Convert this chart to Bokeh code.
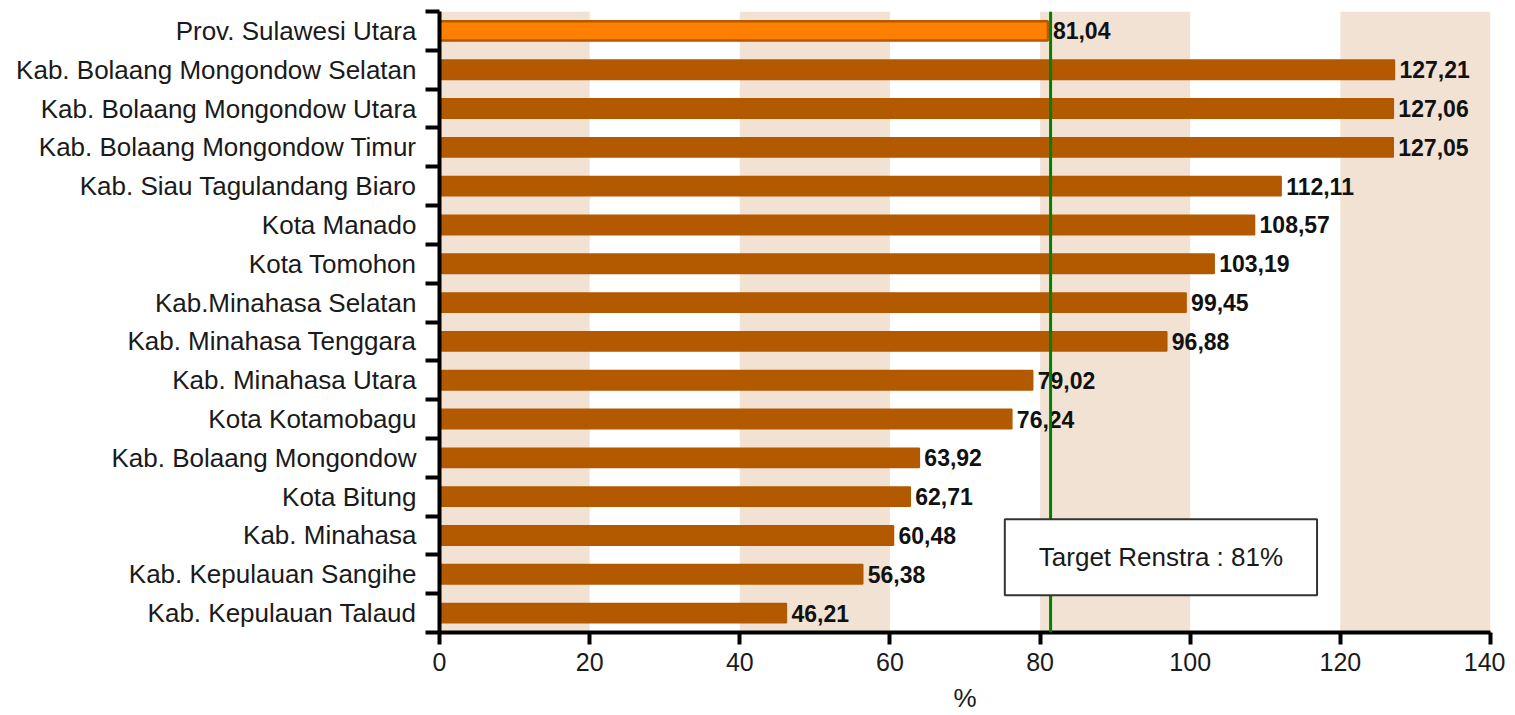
from bokeh.plotting import figure
from bokeh.models import FixedTicker, Span, Label, ColumnDataSource
from bokeh.core.properties import value
from bokeh.embed import file_html
from bokeh.resources import INLINE

# ---- data (top to bottom) ----
regions = ["Prov. Sulawesi Utara", "Kab. Bolaang Mongondow Selatan",
           "Kab. Bolaang Mongondow Utara", "Kab. Bolaang Mongondow Timur",
           "Kab. Siau Tagulandang Biaro", "Kota Manado", "Kota Tomohon",
           "Kab.Minahasa Selatan", "Kab. Minahasa Tenggara", "Kab. Minahasa Utara",
           "Kota Kotamobagu", "Kab. Bolaang Mongondow", "Kota Bitung",
           "Kab. Minahasa", "Kab. Kepulauan Sangihe", "Kab. Kepulauan Talaud"]
values = [81.04, 127.21, 127.06, 127.05, 112.11, 108.57, 103.19, 99.45,
          96.88, 79.02, 76.24, 63.92, 62.71, 60.48, 56.38, 46.21]
x_ticks = [0, 20, 40, 60, 80, 100, 120, 140]
band_left = [0, 40, 80, 120]
band_right = [20, 60, 100, 140]
target_line = 81.4
target_text = "Target Renstra : 81%"
x_label = "%"

FONT = "Liberation Sans"
BROWN = "#B35900"
ORANGE = "#FF8000"
BAND = "#F1E2D3"

n = len(regions)
centers = [n - i - 0.5 for i in range(n)]
colors = [ORANGE] + [BROWN] * (n - 1)
widths = [2.5] + [1.5] * (n - 1)
texts = [f"{v:.2f}".replace(".", ",") for v in values]

src = ColumnDataSource(dict(y=centers, v=values, c=colors, t=texts, w=widths))

p = figure(width=1505, height=715, x_range=(0, 140), y_range=(0, n),
           output_backend="svg", toolbar_location=None,
           min_border_left=439, min_border_right=15, min_border_top=11,
           min_border_bottom=0)
p.outline_line_color = None
p.xgrid.visible = False
p.ygrid.visible = False

# alternating background bands
p.quad(left=band_left, right=band_right, bottom=0, top=n,
       fill_color=BAND, line_color=None)

# bars
p.hbar(y="y", right="v", left=0, height=0.5, fill_color="c",
       line_color=BROWN, line_width="w", source=src)

# value labels
p.text(x="v", y="y", text="t", x_offset=5, text_baseline="middle",
       text_align="left", text_font=value(FONT), text_font_style="bold",
       text_font_size="23px", text_color="#111111", source=src)

# target line
p.add_layout(Span(location=target_line, dimension="height",
                  line_color="#008000", line_width=3))

# target box
p.add_layout(Label(x=96.1, y=1.94, text=target_text, text_align="center",
                   text_baseline="middle", text_font=FONT,
                   text_font_size="26px", text_color="#1a1a1a",
                   background_fill_color="white", border_line_color="#333333",
                   border_line_width=2, padding=(34, 23)))

# x axis
xa = p.xaxis[0]
xa.ticker = FixedTicker(ticks=x_ticks, minor_ticks=[])
xa.axis_line_width = 4
xa.axis_line_color = "black"
xa.major_tick_line_width = 4
xa.major_tick_in = 0
xa.major_tick_out = 12
xa.major_label_standoff = 8
xa.major_label_text_font = FONT
xa.major_label_text_font_size = "25px"
xa.major_label_text_color = "#1a1a1a"
xa.axis_label = x_label
xa.axis_label_text_font = FONT
xa.axis_label_text_font_size = "26px"
xa.axis_label_text_font_style = "normal"
xa.axis_label_text_color = "#1a1a1a"
xa.axis_label_standoff = 9

# y axis
ya = p.yaxis[0]
ya.ticker = FixedTicker(ticks=centers, minor_ticks=list(range(n + 1)))
ya.major_label_overrides = {c: r for c, r in zip(centers, regions)}
ya.axis_line_width = 4
ya.axis_line_color = "black"
ya.major_tick_in = 0
ya.major_tick_out = 0
ya.major_tick_line_color = None
ya.minor_tick_in = 0
ya.minor_tick_out = 14
ya.minor_tick_line_width = 4
ya.minor_tick_line_color = "black"
ya.major_label_standoff = 9
ya.major_label_text_font = FONT
ya.major_label_text_font_size = "26px"
ya.major_label_text_color = "#1a1a1a"

open("out.html", "w").write(file_html(p, INLINE))
